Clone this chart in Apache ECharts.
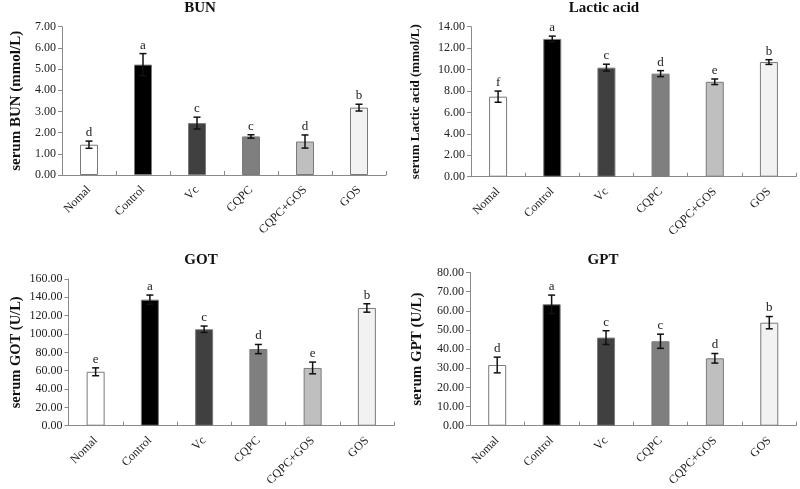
<!DOCTYPE html>
<html>
<head>
<meta charset="utf-8">
<script src="https://cdn.jsdelivr.net/npm/echarts@6/dist/echarts.min.js"></script>
<style>html,body{margin:0;padding:0;background:#fff;}#c{width:800px;height:489px;}</style>
</head>
<body>
<div id="c"></div>
<script>
var categories = ["Nomal", "Control", "Vc", "CQPC", "CQPC+GOS", "GOS"];
var barColors = ["#ffffff", "#000000", "#404040", "#7f7f7f", "#bfbfbf", "#f2f2f2"];

var bunMean = [1.43, 5.21, 2.45, 1.82, 1.58, 3.18];
var bunErr = [0.17, 0.52, 0.28, 0.08, 0.31, 0.16];
var bunLetters = ["d", "a", "c", "c", "d", "b"];
var bunTicks = [0, 7, 1];

var lacMean = [7.47, 12.86, 10.18, 9.62, 8.86, 10.70];
var lacErr = [0.52, 0.26, 0.32, 0.28, 0.26, 0.22];
var lacLetters = ["f", "a", "c", "d", "e", "b"];
var lacTicks = [0, 14, 2];

var gotMean = [58.8, 137.5, 105.2, 83.6, 63.0, 128.4];
var gotErr = [4.3, 5.0, 3.5, 5.0, 6.4, 4.6];
var gotLetters = ["e", "a", "c", "d", "e", "b"];
var gotTicks = [0, 160, 20];

var gptMean = [31.7, 63.4, 46.0, 44.1, 35.2, 53.8];
var gptErr = [4.1, 4.8, 3.6, 3.7, 2.5, 3.2];
var gptLetters = ["d", "a", "c", "c", "d", "b"];
var gptTicks = [0, 80, 10];

var panels = [
  {title: "BUN", name: "serum BUN (mmol/L)", mean: bunMean, err: bunErr, letters: bunLetters, ticks: bunTicks,
   grid: {left: 62, top: 26.7, width: 324, height: 148.3}, tx: 200, ty: 1, gap: 38, nfs: 15},
  {title: "Lactic acid", name: "serum Lactic acid (mmol/L)", mean: lacMean, err: lacErr, letters: lacLetters, ticks: lacTicks,
   grid: {left: 471, top: 26.7, width: 325, height: 150}, tx: 604, ty: 1, gap: 49, nfs: 13},
  {title: "GOT", name: "serum GOT (U/L)", mean: gotMean, err: gotErr, letters: gotLetters, ticks: gotTicks,
   grid: {left: 68.5, top: 279, width: 325.5, height: 149.3}, tx: 201, ty: 253, gap: 45, nfs: 14.5},
  {title: "GPT", name: "serum GPT (U/L)", mean: gptMean, err: gptErr, letters: gptLetters, ticks: gptTicks,
   grid: {left: 470, top: 272.5, width: 326.5, height: 157.5}, tx: 603, ty: 253, gap: 45, nfs: 15}
];

var FONT = "'Liberation Serif', 'Times New Roman', serif";
var axisColor = "#8a8a8a";
var option = {
  backgroundColor: "#fff",
  animation: false,
  title: [], grid: [], xAxis: [], yAxis: [], series: []
};

panels.forEach(function (p, i) {
  option.title.push({
    text: p.title, left: p.tx, top: p.ty, textAlign: "center", padding: 0,
    textStyle: {fontFamily: FONT, fontWeight: "bold", fontSize: 15, color: "#111"}
  });
  option.grid.push(Object.assign({containLabel: false}, p.grid));
  option.xAxis.push({
    type: "category", gridIndex: i, data: categories,
    axisLine: {lineStyle: {color: axisColor, width: 1}},
    axisTick: {show: true, alignWithLabel: false, length: 4, inside: true, lineStyle: {color: axisColor}},
    axisLabel: {rotate: 45, fontFamily: FONT, fontSize: 12, color: "#222", margin: 13, interval: 0},
    splitLine: {show: false}
  });
  option.yAxis.push({
    type: "value", gridIndex: i, min: p.ticks[0], max: p.ticks[1], interval: p.ticks[2],
    name: p.name, nameLocation: "middle", nameGap: p.gap,
    nameTextStyle: {fontFamily: FONT, fontWeight: "bold", fontSize: p.nfs, color: "#111"},
    axisLine: {show: true, lineStyle: {color: axisColor, width: 1}},
    axisTick: {show: true, length: 4, lineStyle: {color: axisColor}},
    axisLabel: {fontFamily: FONT, fontSize: 12, color: "#222", margin: 6,
      formatter: function (v) { return v.toFixed(2); }},
    splitLine: {show: false}
  });
  option.series.push({
    type: "bar", xAxisIndex: i, yAxisIndex: i, barWidth: 18,
    data: p.mean.map(function (v, k) {
      return {value: v, itemStyle: {color: barColors[k], borderColor: "#7a7a7a", borderWidth: 1}};
    }),
    z: 2
  });
  option.series.push({
    type: "custom", xAxisIndex: i, yAxisIndex: i, z: 5,
    data: p.mean.map(function (v, k) { return [k, v, p.err[k], k]; }),
    renderItem: function (params, api) {
      var x = api.value(0), m = api.value(1), e = api.value(2), k = api.value(3);
      var top = api.coord([x, m + e]);
      var bot = api.coord([x, m - e]);
      var cw = 3.5;
      return {
        type: "group",
        children: [
          {type: "line", shape: {x1: top[0], y1: top[1], x2: bot[0], y2: bot[1]}, style: {stroke: "#111", lineWidth: 1.5}},
          {type: "line", shape: {x1: top[0] - cw, y1: top[1], x2: top[0] + cw, y2: top[1]}, style: {stroke: "#111", lineWidth: 1.5}},
          {type: "line", shape: {x1: bot[0] - cw, y1: bot[1], x2: bot[0] + cw, y2: bot[1]}, style: {stroke: "#111", lineWidth: 1.5}},
          {type: "text", style: {text: p.letters[k], x: top[0], y: top[1] - 2, textAlign: "center", textVerticalAlign: "bottom",
            font: "13px " + FONT, fill: "#222"}}
        ]
      };
    }
  });
});

var chart = echarts.init(document.getElementById("c"), null, {renderer: "canvas"});
chart.setOption(option);
</script>
</body>
</html>
